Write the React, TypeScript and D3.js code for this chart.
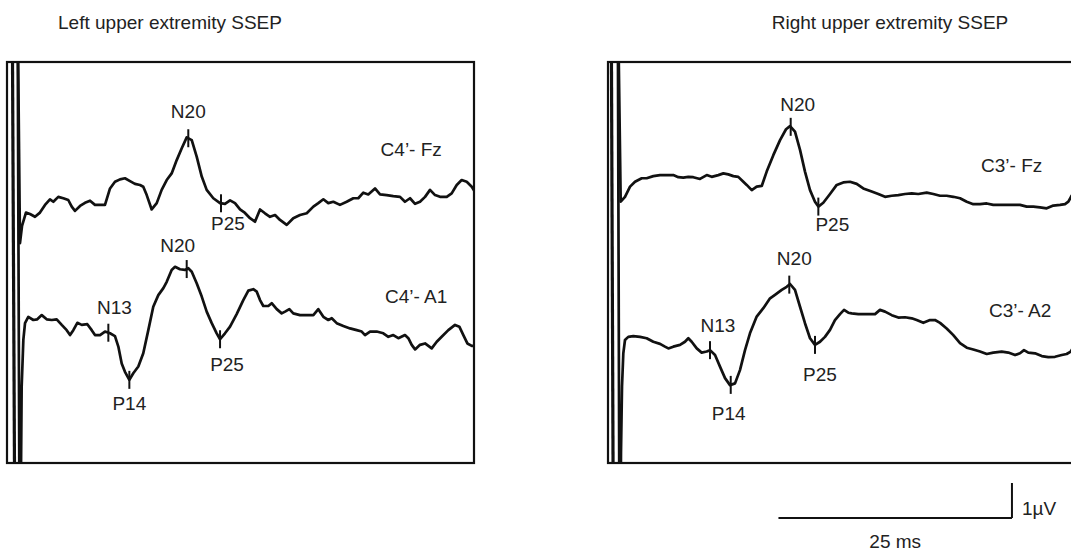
import React from 'react';
import * as d3 from 'd3';

// ---------- DATA (time in ms, amplitude in µV, negative-up deflections plotted upward) ----------
const panelTitles = ['Left upper extremity SSEP', 'Right upper extremity SSEP'];
const channelNames = ['C4’- Fz', 'C4’- A1', 'C3’- Fz', 'C3’- A2'];

const leftFz: [number, number][] = [
  [1.12, 6], [1.39, -1.23], [1.61, -0.74], [2.03, -0.36], [2.46, -0.4], [3.0, -0.48], [3.53, -0.36],
  [4.07, -0.14], [4.6, 0.02], [4.96, -0.05], [5.49, 0.09], [6.03, 0.05], [6.56, 0], [6.93, -0.19],
  [7.28, -0.31], [7.82, -0.17], [8.35, -0.08], [8.89, -0.02], [9.42, -0.14], [9.96, -0.14], [10.49, -0.14],
  [11.03, 0.33], [11.56, 0.52], [12.1, 0.59], [12.63, 0.62], [13.17, 0.54], [13.7, 0.46], [14.24, 0.43],
  [14.59, 0.38], [14.96, 0.14], [15.49, -0.27], [16.03, -0.09], [16.56, 0.29], [17.1, 0.57], [17.63, 0.76],
  [18.17, 1.14], [18.71, 1.48], [19.24, 1.79], [19.78, 1.71], [20.31, 1.24], [20.85, 0.67], [21.38, 0.29],
  [22.09, 0.05], [22.81, -0.09], [23.34, -0.11], [23.88, -0.01], [24.41, -0.09], [24.95, -0.27], [25.48, -0.37],
  [26.02, -0.52], [26.55, -0.62], [27.09, -0.27], [27.62, -0.38], [28.16, -0.48], [28.7, -0.43], [29.23, -0.57],
  [29.95, -0.71], [30.65, -0.52], [31.37, -0.43], [32.09, -0.38], [32.8, -0.19], [33.33, -0.09], [33.87, 0.02],
  [34.4, -0.09], [34.94, -0.05], [35.65, -0.14], [36.37, -0.05], [37.08, 0.05], [37.61, 0.05], [38.15, 0.21],
  [38.68, 0.16], [39.4, 0.33], [39.94, 0.16], [40.65, 0.14], [41.36, 0.11], [42.08, 0.09], [42.61, -0.05],
  [43.15, 0.05], [43.69, -0.11], [44.22, -0.05], [44.76, 0.09], [45.29, 0.29], [45.83, 0.14], [46.36, 0.09],
  [47.08, 0.09], [47.61, 0.19], [48.15, 0.43], [48.68, 0.57], [49.22, 0.52], [49.76, 0.38], [50.11, 0.23],
];

const leftA1: [number, number][] = [
  [1.12, 10], [1.34, -6], [1.45, -6], [1.57, -1.91], [1.75, -0.57], [1.93, -0.09], [2.28, 0.09],
  [2.82, 0], [3.24, 0.02], [3.72, 0.14], [4.25, 0.02], [4.79, 0], [5.32, 0.02], [5.86, -0.14], [6.39, -0.29],
  [6.75, -0.43], [7.1, -0.29], [7.53, -0.08], [8.0, -0.14], [8.6, -0.12], [9.07, -0.29], [9.42, -0.43],
  [9.96, -0.43], [10.49, -0.33], [11.03, -0.38], [11.56, -0.46], [11.92, -0.76], [12.28, -1.24], [12.63, -1.48],
  [13.1, -1.71], [13.52, -1.52], [14.06, -1.33], [14.59, -0.95], [15.13, -0.29], [15.66, 0.38], [16.2, 0.71],
  [16.74, 0.91], [17.1, 1.09], [17.63, 1.43], [17.99, 1.52], [18.52, 1.45], [19.06, 1.43], [19.41, 1.48],
  [19.78, 1.38], [20.31, 1.05], [20.85, 0.67], [21.38, 0.24], [21.92, -0.09], [22.45, -0.38], [22.81, -0.55],
  [23.34, -0.38], [23.88, -0.19], [24.59, 0.17], [25.3, 0.57], [25.84, 0.84], [26.37, 0.88], [26.74, 0.81],
  [27.09, 0.57], [27.44, 0.4], [27.98, 0.4], [28.34, 0.48], [28.88, 0.31], [29.41, 0.19], [29.77, 0.24],
  [30.23, 0.31], [30.65, 0.19], [31.37, 0.14], [32.09, 0.14], [32.8, 0.14], [33.33, 0.31], [33.87, 0.09],
  [34.4, 0], [34.77, 0.05], [35.3, -0.09], [36.01, -0.17], [36.73, -0.24], [37.44, -0.29], [37.98, -0.33],
  [38.33, -0.43], [38.87, -0.33], [39.58, -0.33], [40.29, -0.38], [40.83, -0.48], [41.36, -0.43], [41.9, -0.52],
  [42.61, -0.43], [42.97, -0.52], [43.33, -0.71], [43.69, -0.84], [44.22, -0.71], [44.76, -0.67], [45.47, -0.81],
  [46.01, -0.62], [46.54, -0.48], [47.25, -0.29], [47.97, -0.14], [48.43, -0.19], [48.86, -0.43], [49.29, -0.67],
  [49.76, -0.74], [50.11, -0.74],
];

const rightFz: [number, number][] = [
  [1.02, 6], [1.36, -0.62], [1.82, -0.48], [2.36, -0.19], [2.89, -0.05], [3.61, 0.05], [4.14, 0.05],
  [4.85, 0.11], [5.57, 0.14], [6.28, 0.14], [6.99, 0.14], [7.53, 0.08], [8.06, 0.07], [8.6, 0.09], [9.13, 0.08],
  [9.85, 0.03], [10.57, 0.14], [11.1, 0.09], [11.81, 0.14], [12.35, 0.19], [12.88, 0.16], [13.42, 0.11],
  [13.95, 0.09], [14.49, -0.05], [14.85, -0.14], [15.39, -0.29], [15.92, -0.19], [16.46, -0.17], [16.99, 0.24],
  [17.7, 0.71], [18.42, 1.14], [19.06, 1.45], [19.49, 1.54], [20.02, 1.38], [20.56, 0.86], [21.09, 0.24],
  [21.63, -0.29], [22.16, -0.62], [22.52, -0.76], [23.05, -0.65], [23.77, -0.4], [24.49, -0.14], [25.19, -0.07],
  [25.91, -0.05], [26.63, -0.11], [27.33, -0.24], [28.23, -0.33], [28.94, -0.4], [29.66, -0.48], [30.38, -0.45],
  [31.08, -0.43], [31.8, -0.4], [32.52, -0.38], [33.22, -0.4], [34.12, -0.36], [34.83, -0.4], [35.55, -0.45],
  [36.26, -0.45], [36.97, -0.48], [37.69, -0.52], [38.41, -0.62], [39.11, -0.69], [39.83, -0.69], [40.55, -0.67],
  [41.25, -0.71], [41.97, -0.71], [42.69, -0.71], [43.4, -0.71], [44.11, -0.71], [44.83, -0.76], [45.54, -0.76],
  [46.25, -0.78], [46.97, -0.81], [47.68, -0.73], [48.4, -0.71], [48.93, -0.69], [49.29, -0.62], [49.57, -0.48],
  [50.0, -0.29],
];

const rightA2: [number, number][] = [
  [1.02, 12], [1.23, -6], [1.34, -6], [1.39, -3.23], [1.5, -1.33], [1.64, -0.38], [1.82, 0], [2.17, 0.09],
  [2.71, 0.11], [3.43, 0.09], [4.14, 0.05], [4.85, -0.05], [5.57, -0.11], [6.1, -0.19], [6.46, -0.24],
  [6.99, -0.19], [7.71, -0.14], [8.24, -0.05], [8.6, 0.05], [8.96, -0.05], [9.5, -0.24], [10.03, -0.36],
  [10.57, -0.33], [10.92, -0.29], [11.46, -0.43], [11.99, -0.76], [12.53, -1.09], [13.06, -1.29], [13.6, -1.24],
  [14.13, -0.86], [14.67, -0.29], [15.2, 0.19], [15.92, 0.67], [16.63, 0.91], [17.35, 1.19], [17.88, 1.29],
  [18.6, 1.43], [19.13, 1.52], [19.49, 1.6], [20.02, 1.43], [20.56, 0.95], [21.09, 0.48], [21.63, 0.05],
  [22.16, -0.14], [22.7, -0.05], [23.23, 0.09], [23.77, 0.29], [24.3, 0.57], [24.84, 0.74], [25.27, 0.86],
  [25.73, 0.78], [26.09, 0.76], [26.8, 0.74], [27.7, 0.74], [28.59, 0.74], [29.12, 0.86], [29.66, 0.81],
  [30.38, 0.71], [31.08, 0.64], [31.8, 0.65], [32.52, 0.62], [33.05, 0.57], [33.76, 0.49], [34.48, 0.57],
  [35.01, 0.57], [35.55, 0.49], [36.26, 0.33], [36.97, 0.14], [37.69, -0.09], [38.41, -0.22], [39.11, -0.27],
  [39.83, -0.33], [40.55, -0.4], [41.25, -0.36], [42.15, -0.33], [42.86, -0.36], [43.58, -0.43], [44.11, -0.38],
  [44.54, -0.29], [45.0, -0.36], [45.72, -0.38], [46.44, -0.46], [47.14, -0.49], [47.86, -0.48], [48.58, -0.43],
  [49.11, -0.4], [49.54, -0.33], [50.0, -0.14],
];

// peak markers: [label, latency ms]
const leftFzPeaks: [string, number][] = [['N20', 19.41], ['P25', 22.91]];
const leftA1Peaks: [string, number][] = [['N13', 10.85], ['P14', 13.1], ['N20', 19.24], ['P25', 22.81]];
const rightFzPeaks: [string, number][] = [['N20', 19.56], ['P25', 22.52]];
const rightA2Peaks: [string, number][] = [['N13', 10.92], ['P14', 13.14], ['N20', 19.41], ['P25', 22.16]];

// stimulus artifact (ms at top, ms at bottom)
const leftArtifact: [number, number] = [0.59, 0.8];
const rightArtifact: [number, number] = [0.37, 0.54];

const sweepDomain: [number, number] = [0, 50];
const scaleBarMs = 25;
const scaleBarUv = 1;
const scaleBarLabels = ['25 ms', '1µV'];

// ---------- LAYOUT ----------
const W = 1071;
const H = 554;
const FONT = '"Liberation Sans", Arial, Helvetica, sans-serif';
const FS = 19;
const TEXT = '#222';
const INK = '#111';
const PX_PER_UV = 35;
const boxTop = 62;
const boxBottom = 463;

type Trace = {
  data: [number, number][];
  base: number;
  peaks: [string, number][];
  name: string;
  nameAt: [number, number];
  offsets: Record<string, [number, number]>;
};

type Panel = {
  title: string;
  titleX: number;
  range: [number, number];
  artifact: [number, number];
  traces: Trace[];
};

const panels: Panel[] = [
  {
    title: panelTitles[0],
    titleX: 170,
    range: [7, 474],
    artifact: leftArtifact,
    traces: [
      {
        data: leftFz, base: 200, peaks: leftFzPeaks, name: channelNames[0], nameAt: [40.0, 1.26],
        offsets: { N20: [0, -11], P25: [7, 18] },
      },
      {
        data: leftA1, base: 320, peaks: leftA1Peaks, name: channelNames[1], nameAt: [40.47, 0.49],
        offsets: { N13: [6, -10], P14: [0, 21], N20: [-9, -8], P25: [7, 23] },
      },
    ],
  },
  {
    title: panelTitles[1],
    titleX: 890,
    range: [608, 1075],
    artifact: rightArtifact,
    traces: [
      {
        data: rightFz, base: 180, peaks: rightFzPeaks, name: channelNames[2], nameAt: [39.94, 0.23],
        offsets: { N20: [7, -7], P25: [14, 15] },
      },
      {
        data: rightA2, base: 340, peaks: rightA2Peaks, name: channelNames[3], nameAt: [40.79, 0.66],
        offsets: { N13: [8, -9], P14: [-2, 26], N20: [5, -11], P25: [5, 27] },
      },
    ],
  },
];

function interp(data: [number, number][], t: number): number {
  for (let i = 1; i < data.length; i++) {
    if (data[i][0] >= t) {
      const [t0, v0] = data[i - 1];
      const [t1, v1] = data[i];
      return v0 + ((v1 - v0) * (t - t0)) / (t1 - t0);
    }
  }
  return data[data.length - 1][1];
}

export default function App() {
  const rightX = d3.scaleLinear().domain(sweepDomain).range(panels[1].range);
  const barX0 = rightX(18.25);
  const barX1 = rightX(18.25 + scaleBarMs);
  const barY = d3.scaleLinear().domain([0, 1]).range([518, 518 - PX_PER_UV]);

  return (
    <div style={{ position: 'absolute', left: 0, top: 0 }}>
      <svg width={W} height={H} style={{ display: 'block', background: '#fff' }} fontFamily={FONT}>
        <defs>
          {panels.map((p, i) => (
            <clipPath id={`clip${i}`} key={i}>
              <rect x={p.range[0]} y={boxTop} width={p.range[1] - p.range[0]} height={boxBottom - boxTop} />
            </clipPath>
          ))}
        </defs>
        {panels.map((p, i) => {
          const x = d3.scaleLinear().domain(sweepDomain).range(p.range);
          return (
            <g key={i}>
              <text x={p.titleX} y={29} textAnchor="middle" fontSize={FS} fill={TEXT}>
                {p.title}
              </text>
              <rect
                x={p.range[0]}
                y={boxTop}
                width={p.range[1] - p.range[0]}
                height={boxBottom - boxTop}
                fill="none"
                stroke={INK}
                strokeWidth={2.2}
              />
              <line
                x1={x(p.artifact[0])}
                y1={boxTop}
                x2={x(p.artifact[1])}
                y2={boxBottom}
                stroke={INK}
                strokeWidth={3.2}
              />
              {p.traces.map((tr, j) => {
                const y = d3.scaleLinear().domain([0, 1]).range([tr.base, tr.base - PX_PER_UV]);
                const line = d3
                  .line<[number, number]>()
                  .x((d) => x(d[0]))
                  .y((d) => y(d[1]))
                  .curve(d3.curveLinear);
                return (
                  <g key={j}>
                    <path
                      d={line(tr.data) || ''}
                      fill="none"
                      stroke={INK}
                      strokeWidth={2.7}
                      strokeLinejoin="round"
                      clipPath={`url(#clip${i})`}
                    />
                    {tr.peaks.map(([lab, t]) => {
                      const cx = x(t);
                      const cy = y(interp(tr.data, t));
                      const top = cy - 9;
                      const bot = cy + 9;
                      const off = tr.offsets[lab] || [0, 0];
                      const isN = lab.startsWith('N');
                      return (
                        <g key={lab}>
                          <line x1={cx} x2={cx} y1={top} y2={bot} stroke={INK} strokeWidth={2} />
                          <text
                            x={cx + off[0]}
                            y={(isN ? top : bot) + off[1]}
                            textAnchor="middle"
                            fontSize={FS}
                            fill={TEXT}
                          >
                            {lab}
                          </text>
                        </g>
                      );
                    })}
                    <text x={x(tr.nameAt[0])} y={y(tr.nameAt[1])} fontSize={FS} fill={TEXT}>
                      {tr.name}
                    </text>
                  </g>
                );
              })}
            </g>
          );
        })}
        {/* scale bar */}
        <g>
          <line x1={barX0} x2={barX1} y1={barY(0)} y2={barY(0)} stroke={INK} strokeWidth={2} />
          <line x1={barX1} x2={barX1} y1={barY(0)} y2={barY(scaleBarUv)} stroke={INK} strokeWidth={2} />
          <text x={(barX0 + barX1) / 2} y={548} textAnchor="middle" fontSize={FS} fill={TEXT}>
            {scaleBarLabels[0]}
          </text>
          <text x={barX1 + 10} y={515} fontSize={FS} fill={TEXT}>
            {scaleBarLabels[1]}
          </text>
        </g>
      </svg>
    </div>
  );
}
